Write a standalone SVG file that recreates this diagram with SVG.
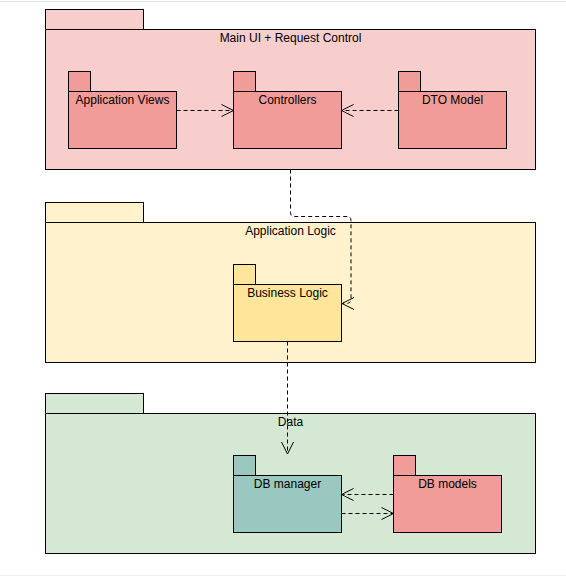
<svg xmlns="http://www.w3.org/2000/svg" width="566" height="577" viewBox="0 0 566 577">
<defs>
<marker id="open" viewBox="0 0 14 14" refX="13" refY="7" markerWidth="14" markerHeight="14" markerUnits="userSpaceOnUse" orient="auto">
<path d="M1,1 L13,7 L1,13" fill="none" stroke="#000" stroke-width="1"/>
</marker>
<style>
.b{stroke:#000;stroke-width:1}
.pk1{fill:#f8cecc}.in1{fill:#f19c99}
.pk2{fill:#fff2cc}.in2{fill:#ffe599}
.pk3{fill:#d5e8d4}.in3{fill:#9ac7bf}
text{font-family:"Liberation Sans",Arial,sans-serif;font-size:12px;fill:#000;text-anchor:middle}
.e{fill:none;stroke:#000;stroke-width:1;stroke-dasharray:4,3;marker-end:url(#open)}
</style>
</defs>
<rect x="0" y="0" width="566" height="577" fill="#fff"/>
<line x1="0" y1="1.5" x2="566" y2="1.5" stroke="#e6e6e6"/>
<line x1="0" y1="575.5" x2="566" y2="575.5" stroke="#eeeeee"/>

<g id="main-ui">
<rect class="b pk1" x="45.5" y="9.5" width="98" height="20"/>
<rect class="b pk1" x="45.5" y="29.5" width="490" height="140"/>
<text x="290.5" y="42">Main UI + Request Control</text>
</g>
<g id="app-views">
<rect class="b in1" x="68.5" y="71.5" width="22" height="20"/>
<rect class="b in1" x="68.5" y="91.5" width="108" height="57"/>
<text x="122.5" y="104">Application Views</text>
</g>
<g id="controllers">
<rect class="b in1" x="233.5" y="71.5" width="22" height="20"/>
<rect class="b in1" x="233.5" y="91.5" width="108" height="57"/>
<text x="287.5" y="104">Controllers</text>
</g>
<g id="dto-model">
<rect class="b in1" x="398.5" y="71.5" width="22" height="20"/>
<rect class="b in1" x="398.5" y="91.5" width="108" height="57"/>
<text x="452.5" y="104">DTO Model</text>
</g>

<g id="app-logic">
<rect class="b pk2" x="45.5" y="202.5" width="98" height="20"/>
<rect class="b pk2" x="45.5" y="222.5" width="490" height="140"/>
<text x="290.5" y="235">Application Logic</text>
</g>
<g id="business-logic">
<rect class="b in2" x="233.5" y="264.5" width="22" height="20"/>
<rect class="b in2" x="233.5" y="284.5" width="108" height="57"/>
<text x="287.5" y="297">Business Logic</text>
</g>

<g id="data">
<rect class="b pk3" x="45.5" y="393.5" width="98" height="20"/>
<rect class="b pk3" x="45.5" y="413.5" width="490" height="140"/>
<text x="290.5" y="426">Data</text>
</g>
<g id="db-manager">
<rect class="b in3" x="233.5" y="455.5" width="22" height="20"/>
<rect class="b in3" x="233.5" y="475.5" width="108" height="57"/>
<text x="287.5" y="488">DB manager</text>
</g>
<g id="db-models">
<rect class="b in1" x="393.5" y="455.5" width="22" height="20"/>
<rect class="b in1" x="393.5" y="475.5" width="108" height="57"/>
<text x="447.5" y="488">DB models</text>
</g>

<g id="connectors">
<path class="e" d="M176.5,110.5 H233.5"/>
<path class="e" d="M398.5,110.5 H341.5"/>
<path class="e" d="M290.5,169.5 V212.5 Q290.5,216.5 294.5,216.5 H347 Q351,216.5 351,220.5 V299 Q351,303.5 346,303.5 H342"/>
<path class="e" d="M287.5,341.5 V454"/>
<path class="e" d="M393.5,494.5 H341.5"/>
<path class="e" d="M341.5,513.5 H393.5"/>
</g>
</svg>
